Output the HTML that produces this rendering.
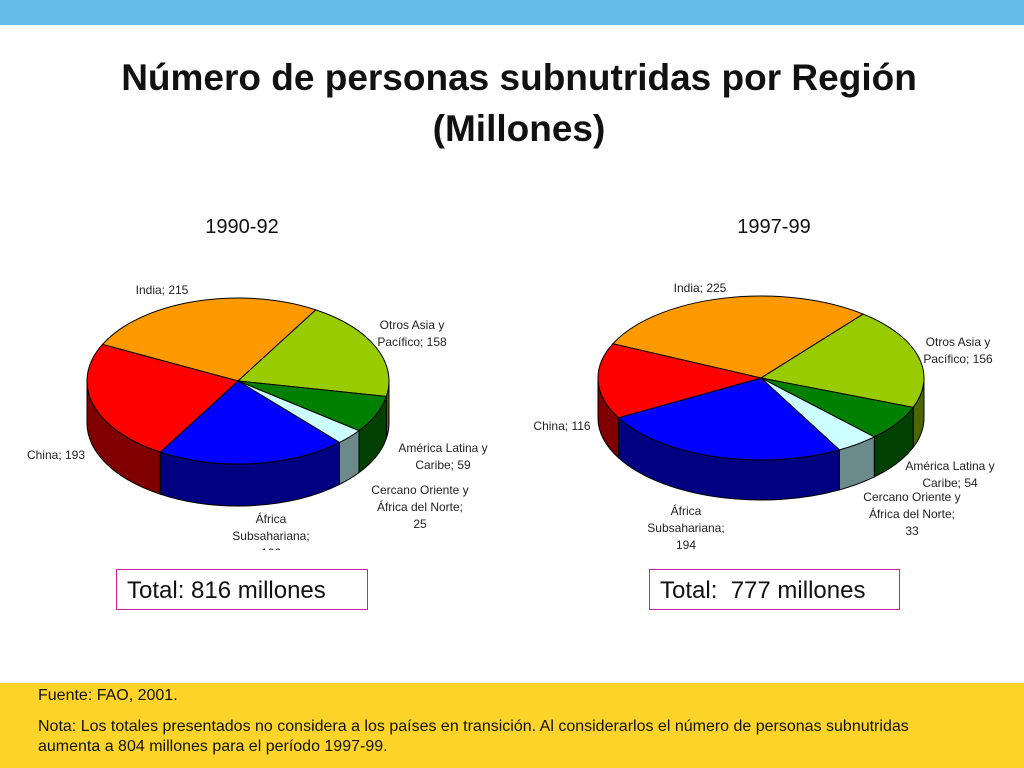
<!DOCTYPE html>
<html><head><meta charset="utf-8">
<style>
body{margin:0;width:1024px;height:768px;overflow:hidden;background:#fff;font-family:"Liberation Sans",sans-serif;position:relative}
.topbar{position:absolute;left:0;top:0;width:1024px;height:25px;background:#63BDE8}
.title{position:absolute;left:0;width:1038px;text-align:center;font-weight:bold;font-size:37px;color:#111;line-height:51px;top:52px}
.sub{position:absolute;font-size:20px;color:#111;width:200px;text-align:center}
.total{position:absolute;top:569px;height:41px;border:1px solid #d020a0;font-size:24px;line-height:42px;color:#111;box-sizing:border-box;padding-left:10px}
.foot{position:absolute;left:0;top:683px;width:1024px;height:85px;background:#FFD42A;font-size:16px;color:#111}
.foot div{position:absolute;left:38px}
</style></head><body>
<div class="topbar"></div>
<div class="title">Número de personas subnutridas por Región<br>(Millones)</div>
<div class="sub" style="left:142px;top:216px">1990-92</div>
<div class="sub" style="left:674px;top:216px">1997-99</div>
<svg id="svg" width="1024" height="768" style="position:absolute;left:0;top:0">
<defs><clipPath id="clipL"><rect x="0" y="250" width="512" height="300"/></clipPath></defs>
<g id="gL" clip-path="url(#clipL)"></g>
<g id="gR"></g>
</svg>
<div class="total" style="left:116px;width:252px">Total: 816 millones</div>
<div class="total" style="left:649px;width:251px">Total:&nbsp; 777 millones</div>
<div class="foot">
<div style="top:4px">Fuente: FAO, 2001.</div>
<div style="top:34px;line-height:20px">Nota: Los totales presentados no considera a los países en transición. Al considerarlos el número de personas subnutridas<br>aumenta a 804 millones para el período 1997-99.</div>
</div>
<script>
const categories = ["India","Otros Asia y Pacífico","América Latina y Caribe","Cercano Oriente y África del Norte","África Subsahariana","China"];
const values1990 = [215,158,59,25,166,193];
const values1997 = [225,156,54,33,194,116];
const topColors = ["#FF9900","#99CC00","#008000","#CCFFFF","#0000FF","#FF0000"];
const sideColors = ["#804c00","#4d6600","#004000","#6b8a8a","#000080","#800000"];
const labels1990 = [["India; 215"],["Otros Asia y","Pacífico; 158"],["América Latina y","Caribe; 59"],["Cercano Oriente y","África del Norte;","25"],["África","Subsahariana;","166"],["China; 193"]];
const labels1997 = [["India; 225"],["Otros Asia y","Pacífico; 156"],["América Latina y","Caribe; 54"],["Cercano Oriente y","África del Norte;","33"],["África","Subsahariana;","194"],["China; 116"]];
const labelPos1990 = [[162,294],[412,329],[443,452],[420,494],[271,523],[56,459]];
const labelPos1997 = [[700,292],[958,346],[950,470],[912,501],[686,515],[562,430]];
const NS="http://www.w3.org/2000/svg";
function mk(tag,attrs,parent){const e=document.createElementNS(NS,tag);for(const k in attrs)e.setAttribute(k,attrs[k]);parent.appendChild(e);return e;}
function drawPie(g,vals,cx,cy,rx,ry,depth,endIndia,labels,lpos,key){
  const total=vals.reduce((a,b)=>a+b,0);
  const start=endIndia-vals[0]/total*360;
  const P=(a,dy)=>{const r=a*Math.PI/180;return [cx+rx*Math.sin(r),cy-ry*Math.cos(r)+(dy||0)];};
  let a=start;const sl=[];
  vals.forEach(v=>{const b=a+v/total*360;sl.push([a,b]);a=b;});
  // sides
  sl.forEach(([a1,b1],i)=>{
    for(const off of [0,360,-360]){
      const s=Math.max(a1+off,90),e=Math.min(b1+off,270);
      if(e<=s)continue;
      const p1=P(s),p2=P(e),p3=P(e,depth),p4=P(s,depth);
      const d=`M${p1} A${rx},${ry} 0 0 1 ${p2} L${p3} A${rx},${ry} 0 0 0 ${p4} Z`;
      const el=mk('path',{d,fill:sideColors[i],stroke:'#000','stroke-width':1},g);
      
      
    }
  });
  sl.forEach(([a1,b1],i)=>{
    const p1=P(a1),p2=P(b1);const large=(b1-a1)>180?1:0;
    const el=mk('path',{d:`M${cx},${cy} L${p1} A${rx},${ry} 0 ${large} 1 ${p2} Z`,fill:topColors[i],stroke:'#000','stroke-width':1},g);
    
    
  });
  labels.forEach((lines,i)=>{
    const t=mk('text',{x:lpos[i][0],y:lpos[i][1],'text-anchor':'middle','font-size':12,fill:'#222','font-family':'Liberation Sans, sans-serif'},g);
    
    
    lines.forEach((ln,j)=>{const ts=mk('tspan',{x:lpos[i][0],dy:j?17:0},t);ts.textContent=ln;});
  });
}
drawPie(document.getElementById('gL'),values1990,238,381,151,83,42,31,labels1990,labelPos1990,'1990');
drawPie(document.getElementById('gR'),values1997,761,378,163,82,40,38.8,labels1997,labelPos1997,'1997');
</script>
</body></html>
